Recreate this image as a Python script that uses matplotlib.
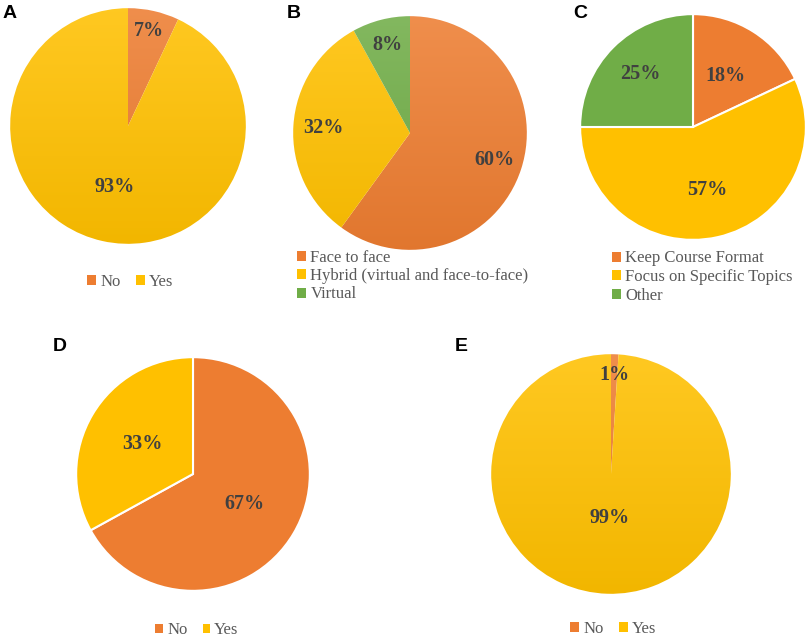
import matplotlib
matplotlib.use("Agg")
import matplotlib.pyplot as plt
from matplotlib.patches import Patch
import matplotlib.colors as mcolors
import numpy as np

# ---- data ----
ORANGE = "#ED7D31"
YELLOW = "#FFC000"
GREEN = "#70AD47"

a_labels = ["No", "Yes"]
a_values = [7, 93]
b_labels = ["Face to face", "Hybrid (virtual and face-to-face)", "Virtual"]
b_values = [60, 32, 8]
c_labels = ["Keep Course Format", "Focus on Specific Topics", "Other"]
c_values = [18, 57, 25]
d_labels = ["No", "Yes"]
d_values = [67, 33]
e_labels = ["No", "Yes"]
e_values = [1, 99]

W, H = 810, 639
fig = plt.figure(figsize=(8.1, 6.39), dpi=100)

SERIF = ["Liberation Serif", "DejaVu Serif"]
SANS = ["Liberation Sans", "DejaVu Sans"]


def mix(c, other, t):
    c = np.array(mcolors.to_rgb(c))
    o = np.array(mcolors.to_rgb(other))
    return c * (1 - t) + o * t


def ax_at(cx, cy, r):
    return fig.add_axes([(cx - r) / W, 1 - (cy + r) / H, 2 * r / W, 2 * r / H])


def draw_pie(cx, cy, r, values, colors, label_dist, gradient, edge):
    ax = ax_at(cx, cy, r)
    wedges, _ = ax.pie(values, colors=colors, startangle=90, counterclock=False,
                       wedgeprops=dict(edgecolor="white" if edge else "none",
                                       linewidth=1.5 if edge else 0))
    n = 64
    for w, col, v, d in zip(wedges, colors, values, label_dist):
        if gradient:
            top = mix(col, "white", 0.13)
            bot = mix(col, "black", 0.05)
            t = np.linspace(0, 1, n)[:, None]
            grad = (top[None, :] * (1 - t) + bot[None, :] * t)[:, None, :]
            im = ax.imshow(grad, extent=(-1, 1, -1, 1), aspect="auto", zorder=1,
                           interpolation="bilinear")
            im.set_clip_path(w)
            w.set_facecolor("none")
            w.set_zorder(2)
        mid = np.deg2rad((w.theta1 + w.theta2) / 2)
        ax.text(d * np.cos(mid), d * np.sin(mid), f"{v}%", ha="center", va="center",
                fontsize=14.5, fontweight="bold", family=SERIF, color="#404040", zorder=3)
    ax.set_xlim(-1.01, 1.01)
    ax.set_ylim(-1.01, 1.01)
    ax.set_aspect("equal")
    ax.axis("off")
    return ax


def legend(labels, colors, x, y, loc, ncol, hs=0.55):
    handles = [Patch(facecolor=c, edgecolor="none") for c in colors]
    fig.legend(handles, labels, loc=loc, bbox_to_anchor=(x / W, 1 - y / H),
               ncol=ncol, frameon=False, prop=dict(family=SERIF, size=12),
               labelcolor="#595959", handlelength=hs, handleheight=hs,
               handletextpad=0.25, columnspacing=0.9, labelspacing=0.15,
               borderpad=0, borderaxespad=0)


two = [ORANGE, YELLOW]
three = [ORANGE, YELLOW, GREEN]

draw_pie(128, 126, 119, a_values, two, [0.83, 0.53], True, False)
draw_pie(410, 133, 118, b_values, three, [0.76, 0.74, 0.78], True, False)
draw_pie(693, 127, 114, c_values, three, [0.53, 0.57, 0.66], False, True)
draw_pie(193, 474, 118, d_values, two, [0.51, 0.50], False, True)
draw_pie(611, 474, 121, e_values, two, [0.83, 0.37], True, False)

legend(a_labels, two, 130, 282, "center", 2)
legend(b_labels, three, 297, 276, "center left", 1)
legend(c_labels, three, 612, 277, "center left", 1)
legend(d_labels, two, 197, 630, "center", 2, 0.45)
legend(e_labels, two, 613, 629, "center", 2)

for letter, x, y in [("A", 3, 5), ("B", 287, 5), ("C", 573, 5), ("D", 53, 338), ("E", 455, 338)]:
    fig.text(x / W, 1 - y / H, letter, ha="left", va="top", fontsize=14,
             fontweight="bold", family=SANS, color="black")

fig.savefig("out.png", dpi=100, facecolor="white")
